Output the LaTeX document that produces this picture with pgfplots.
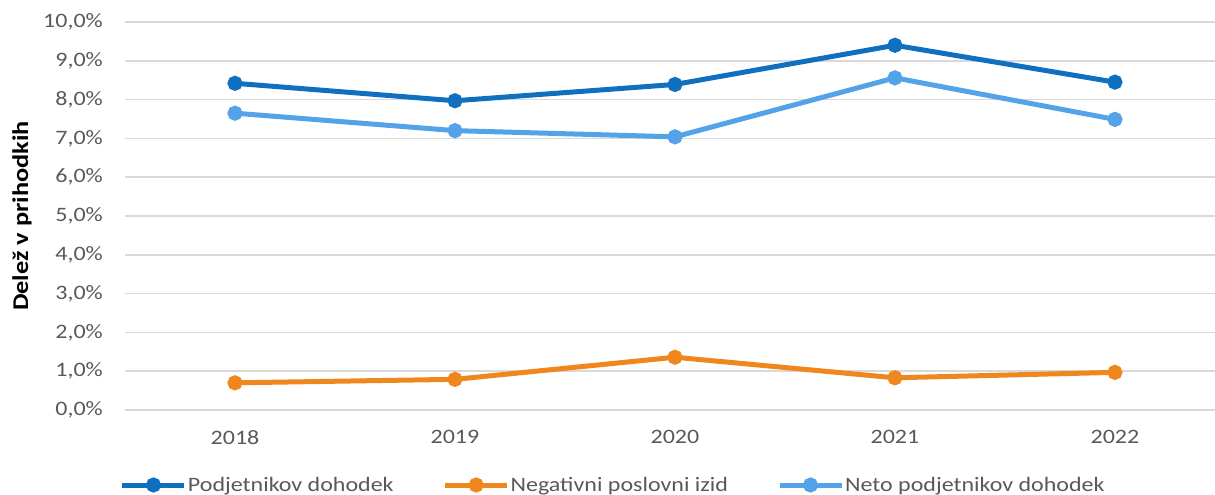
\documentclass[border=0pt]{standalone}
\usepackage{fontspec}
\setmainfont{Carlito}[FakeStretch=1.17]
\usepackage{pgfplots}
\pgfplotsset{compat=1.18}
\definecolor{cDark}{RGB}{16,112,192}
\definecolor{cLight}{RGB}{84,163,232}
\definecolor{cOrange}{RGB}{240,135,30}
\definecolor{gridgray}{RGB}{217,217,217}
\definecolor{labgray}{RGB}{89,89,89}
\begin{document}
\begin{tikzpicture}
\begin{axis}[
  at={(125pt,85pt)}, anchor=south west, scale only axis,
  width=1090pt, height=388pt,
  xmin=-0.5, xmax=4.455, ymin=0, ymax=10,
  axis line style={draw=none},
  ytick={0,1,...,10}, xtick={0,1,2,3,4},
  xticklabels={2018,2019,2020,2021,2022},
  ymajorgrids, grid style={draw=gridgray, line width=1.5pt},
  major tick length=0pt,
  /pgf/number format/assume math mode=true,
  tick label style={font=\fontsize{20.5}{24}\selectfont, text=labgray},
  yticklabel style={anchor=east, inner sep=0pt, xshift=-22pt},
  xticklabel style={anchor=north, inner sep=0pt, yshift=-20pt},
  yticklabel={\pgfmathprintnumber[fixed,fixed zerofill,precision=1,use comma]{\tick}\%},
  ylabel={Delež v prihodkih},
  ylabel style={font=\fontsize{22.5}{26}\selectfont\bfseries, text=black,
    at={(axis description cs:-0.0945,0.5)}, anchor=center, rotate=0},
  legend columns=3,
  legend cell align=left,
  legend image code/.code={\draw[mark repeat=2,mark phase=2,#1] plot coordinates {(0pt,0pt) (31pt,0pt) (62pt,0pt)};},
  legend style={draw=none, fill=none, inner sep=0pt, outer sep=0pt,
    at={(axis description cs:-0.0046,-0.1933)}, anchor=west,
    font=\fontsize{20.5}{24}\selectfont, text=labgray,
    nodes={inner sep=1pt},
    /tikz/every even column/.append style={column sep=48pt}},
  every axis plot/.append style={line width=5pt, mark=*, mark size=5pt},
  clip=false,
]
\addplot[color=cDark] coordinates {(0,8.42) (1,7.97) (2,8.39) (3,9.40) (4,8.45)};
\addlegendentry{Podjetnikov dohodek}
\addplot[color=cOrange] coordinates {(0,0.70) (1,0.79) (2,1.36) (3,0.83) (4,0.97)};
\addlegendentry{Negativni poslovni izid}
\addplot[color=cLight] coordinates {(0,7.65) (1,7.20) (2,7.04) (3,8.56) (4,7.49)};
\addlegendentry{Neto podjetnikov dohodek}
\end{axis}
\pgfresetboundingbox
\path[use as bounding box] (0,0) rectangle (1215pt,495pt);
\end{tikzpicture}
\end{document}
